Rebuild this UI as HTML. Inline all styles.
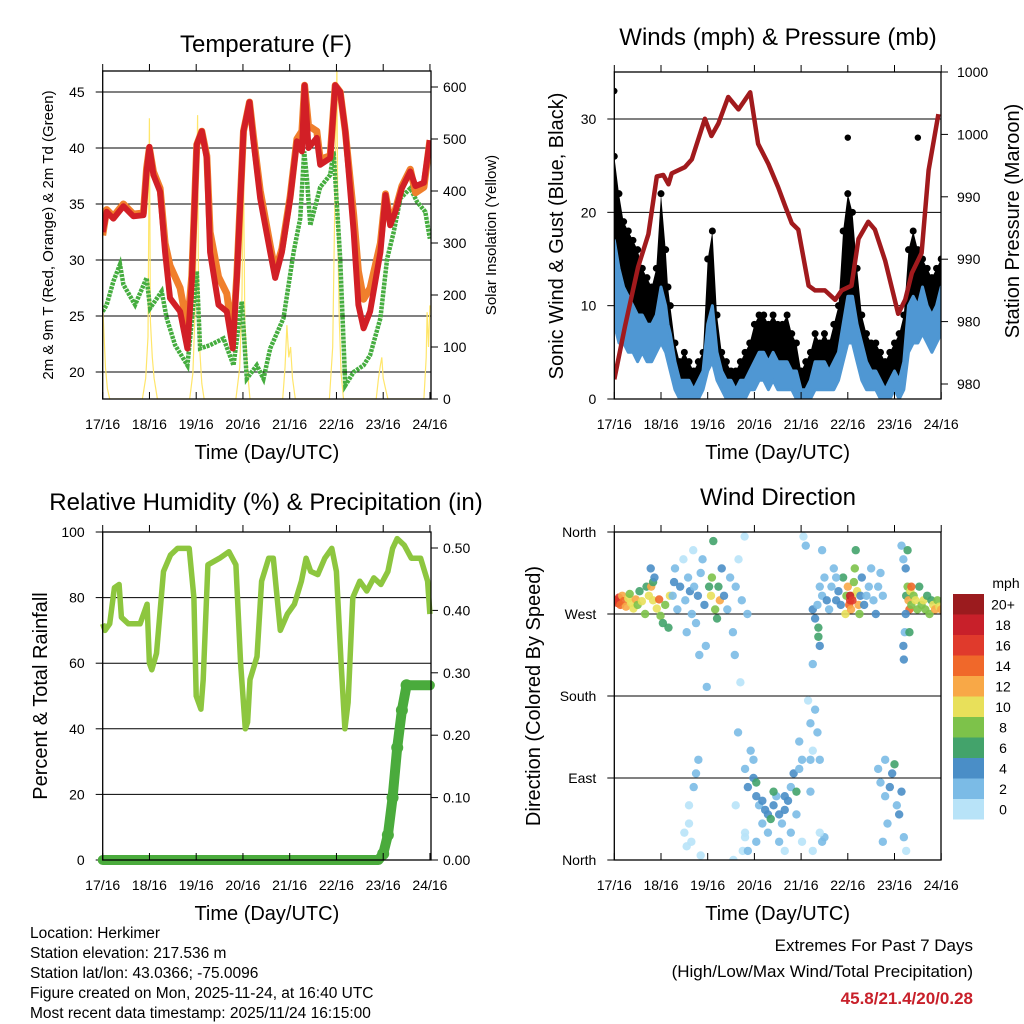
<!DOCTYPE html>
<html><head><meta charset="utf-8"><style>
html,body{margin:0;padding:0;background:#fff;}
svg{display:block;font-family:"Liberation Sans",sans-serif;}
</style></head><body>
<svg id="c" width="1024" height="1024" viewBox="0 0 1024 1024" xmlns="http://www.w3.org/2000/svg"></svg>
<script>
// ---------- DATA ----------
const dayTicks = ["17/16","18/16","19/16","20/16","21/16","22/16","23/16","24/16"];
// Temperature (F)
const tempT = [0,0.085,0.228,0.442,0.656,0.87,0.94,0.998,1.084,1.227,1.334,1.44,1.655,1.812,1.905,2.012,2.12,2.226,2.298,2.476,2.655,2.783,2.869,3.011,3.14,3.226,3.37,3.583,3.69,3.833,4.01,4.154,4.26,4.318,4.403,4.58,4.653,4.867,4.974,5.08,5.19,5.37,5.47,5.58,5.72,5.94,6.05,6.15,6.26,6.40,6.58,6.69,6.87,7.0];
const temp2m = [32.5,34.3,33.7,34.8,33.9,34.0,37.9,40.1,37.6,36.1,30.7,26.6,25.4,22.1,28.1,40.3,41.5,39.1,30.7,26.0,25.4,22.1,28.4,41.5,44.1,40.6,35.5,30.7,28.4,30.7,35.5,40.6,39.7,45.6,40.0,40.9,38.5,39.1,45.6,45.0,41.5,32.5,26.0,23.9,25.4,30.7,35.8,33.1,34.3,36.4,37.9,36.6,36.9,40.7];
const temp9m = [32.2,34.5,33.9,35.0,34.1,34.2,38.2,40.0,37.9,36.4,31.5,29.5,27.5,24.0,28.6,40.3,41.5,39.3,32.5,28.5,27.0,23.0,28.6,41.5,44.1,41.0,36.2,31.3,29.0,31.0,35.7,40.8,41.5,45.6,42.0,41.5,39.0,39.3,45.6,45.0,41.5,34.0,29.0,26.5,27.5,31.5,35.9,33.5,34.5,36.6,38.1,36.0,36.5,40.7];
const dewT = [0,0.085,0.228,0.37,0.442,0.692,0.94,1.013,1.263,1.37,1.548,1.812,2.012,2.083,2.298,2.583,2.797,2.976,3.083,3.297,3.44,3.583,3.868,4.083,4.225,4.31,4.368,4.44,4.653,4.867,4.94,5.08,5.19,5.37,5.58,5.72,5.94,6.083,6.225,6.368,6.58,6.725,6.9,7.0];
const dewPt = [25.4,26.0,28.1,29.6,27.8,26.0,28.4,25.7,27.2,24.8,22.4,20.6,29.0,22.1,22.4,23.0,20.6,26.3,19.4,20.6,19.4,22.1,24.8,30.7,33.7,39.7,37.3,33.1,36.5,37.6,39.7,30.1,18.8,20.0,20.6,21.5,24.8,30.1,32.5,35.5,36.4,35.2,34.3,31.9];
const solarT = [0,0.03,0.06,0.1,0.15,0.85,0.92,0.97,1.0,1.02,1.06,1.1,1.17,1.86,1.93,1.98,2.03,2.05,2.08,2.12,2.17,2.85,2.93,2.98,3.01,3.04,3.09,3.15,3.85,3.9,3.94,3.98,4.02,4.06,4.12,4.85,4.92,4.97,5.01,5.03,5.06,5.1,5.15,5.85,5.9,5.94,5.97,6.0,6.05,6.1,6.87,6.92,6.94,6.97,7.0];
const solarW = [180,120,60,20,0,0,40,120,540,150,80,40,0,0,50,180,546,200,90,30,0,0,60,200,469,150,60,0,0,60,142,80,100,40,0,0,100,400,640,300,150,50,0,0,40,65,80,40,20,0,0,80,167,100,180];
const tempTicks = [20,25,30,35,40,45];
const solarTicks = [0,100,200,300,400,500,600];
// Winds & pressure
const windT = [0,0.1,0.2,0.3,0.4,0.5,0.6,0.7,0.8,0.9,1.0,1.1,1.15,1.2,1.3,1.4,1.5,1.6,1.7,1.8,1.9,2.0,2.1,2.2,2.3,2.4,2.5,2.6,2.7,2.8,2.9,3.0,3.1,3.2,3.3,3.4,3.5,3.6,3.7,3.8,3.9,4.0,4.1,4.2,4.3,4.4,4.5,4.6,4.7,4.8,4.9,5.0,5.1,5.2,5.3,5.4,5.5,5.6,5.7,5.8,5.9,6.0,6.1,6.2,6.3,6.4,6.5,6.6,6.7,6.8,6.9,7.0];
const windSpd = [17,14,12,11,10,9,9,8,8,9,12,10,8,7,4,2,2,2,1,2,3,8,10,5,3,2,2,1,2,2,3,4,5,5,4,5,4,4,4,3,3,1,1,2,4,4,4,3,4,5,8,11,11,8,6,4,3,3,2,1,2,3,2,4,10,11,10,12,10,9,10,12];
const windLow = [8,6,6,5,5,4,5,4,4,5,6,5,4,3,1,0,0,0,0,0,1,3,4,2,1,0,0,0,0,0,1,1,2,2,1,2,1,1,1,1,0,0,0,0,1,1,1,1,1,2,4,6,6,4,2,1,1,1,0,0,0,1,0,1,5,6,6,7,6,5,6,7];
const windGust = [26,22,19,18,17,16,14,13,12,14,22,16,12,10,6,4,5,4,3,4,5,15,18,9,5,4,3,3,4,5,6,8,9,9,8,9,8,8,9,7,6,3,4,5,7,6,7,6,8,10,18,22,20,14,9,7,6,6,5,4,5,6,7,9,16,18,16,15,14,13,14,15];
const gustPeakT = [0,5.0,6.5];
const gustPeakV = [33,28,28];
const presT = [0,0.23,0.51,0.73,0.91,1.05,1.16,1.23,1.51,1.66,1.94,2.08,2.23,2.44,2.66,2.91,3.08,3.30,3.51,3.66,3.80,3.94,4.16,4.30,4.51,4.73,4.87,5.08,5.23,5.44,5.58,5.80,6.08,6.23,6.37,6.58,6.73,6.94];
const presMb = [978.3,981.7,985.5,987.6,991.3,991.4,990.8,991.5,991.9,992.4,995.0,993.9,994.7,996.4,995.6,996.7,993.4,992.1,990.6,989.4,988.3,987.9,984.3,984.0,984.0,983.4,984.0,984.3,987.3,988.4,987.9,985.9,982.5,983.4,985.1,986.4,991.7,995.3];
const windTicks = [0,10,20,30];
const presTickVals = [978,982,986,990,994,998];
const presTickLabels = ["980","980","990","990","1000","1000"];
// RH & precip
const rhT = [0,0.05,0.15,0.25,0.35,0.4,0.55,0.8,0.95,1.0,1.05,1.15,1.3,1.45,1.6,1.85,1.95,2.0,2.1,2.15,2.25,2.5,2.7,2.85,2.95,3.05,3.1,3.15,3.3,3.4,3.55,3.65,3.8,3.95,4.1,4.25,4.35,4.45,4.6,4.75,4.9,5.0,5.1,5.18,5.25,5.35,5.5,5.65,5.8,5.95,6.1,6.2,6.3,6.45,6.6,6.8,6.95,7.0];
const rhVal = [72,70,72,83,84,74,72,72,78,60,58,63,88,93,95,95,80,50,46,55,90,92,94,90,60,40,42,55,62,85,92,92,70,75,78,85,92,88,87,92,95,88,60,40,48,80,85,82,86,84,88,95,98,96,92,92,85,75];
const prT = [0,5.9,6.0,6.1,6.2,6.3,6.4,6.5,7.0];
const prVal = [0,0,0.01,0.04,0.1,0.18,0.24,0.28,0.28];
const rhTicks = [0,20,40,60,80,100];
const prTicks = [0,0.1,0.2,0.3,0.4,0.5];
const prTickLabels = ["0.00","0.10","0.20","0.30","0.40","0.50"];
// Wind direction scatter: time, direction (deg), speed (mph)
const dirT = [0.03,0.07,0.1,0.13,0.17,0.2,0.25,0.3,0.33,0.36,0.41,0.46,0.5,0.54,0.59,0.66,0.69,0.74,0.79,0.83,0.91,0.96,0.99,1.04,1.09,1.16,1.19,0.83,0.78,0.86,
1.25,1.28,1.3,1.35,1.41,1.48,1.52,1.55,1.58,1.62,1.66,1.69,1.71,1.75,1.79,1.82,1.85,1.89,1.93,1.96,1.98,2.03,2.07,2.09,2.12,2.16,2.2,2.23,2.26,2.3,
2.35,2.42,2.48,2.54,2.6,2.66,2.73,2.79,2.85,2.58,2.7,
1.5,1.55,1.6,1.7,1.75,1.8,1.85,1.6,1.65,2.55,2.6,2.65,2.75,2.8,
2.8,2.86,2.92,2.98,3.04,3.1,3.17,3.23,3.29,3.35,3.41,3.47,3.53,3.59,3.65,3.72,3.78,3.84,3.9,3.96,4.02,2.8,2.86,3.04,3.17,3.29,3.53,3.65,3.78,3.9,3.96,4.02,4.2,4.2,3.04,3.41,3.65,2.98,
4.05,4.1,4.15,4.2,4.25,
4.25,4.3,4.35,4.37,4.4,4.45,4.5,4.55,4.6,4.65,4.7,4.75,4.8,4.85,4.9,4.95,4.97,5.0,5.03,5.05,5.07,5.1,5.13,5.15,5.17,5.2,5.23,5.25,5.27,5.3,5.35,5.4,5.45,5.5,5.55,5.6,5.65,5.7,5.75,4.37,4.4,5.05,5.1,4.25,4.45,4.75,
4.3,4.35,4.4,4.25,4.45,4.5,4.4,
6.15,6.19,6.24,6.25,6.28,6.3,6.32,6.34,6.36,6.41,6.45,6.49,6.53,6.58,6.62,6.66,6.7,6.75,6.79,6.83,6.87,6.92,6.96,7.0,6.19,6.2,6.22,6.32,6.28,6.36,6.24,
5.65,5.7,5.8,5.85,5.9,5.95,6.0,6.05,6.1,6.15,6.2,6.25,5.8,5.75];
const dirDeg = [285,282,288,280,290,284,278,287,292,282,276,286,280,295,284,270,300,290,300,285,276,286,268,260,280,255,290,305,320,310,
290,305,320,275,300,330,285,250,310,295,270,340,300,260,290,225,315,330,280,235,190,300,290,310,350,275,265,300,285,320,
290,275,310,250,300,330,285,355,270,225,195,
30,15,60,80,95,110,5,40,20,0,60,140,10,25,
100,80,120,90,70,60,65,55,50,45,60,70,50,40,55,65,80,95,75,100,110,30,10,20,40,30,20,10,30,50,130,20,110,75,85,75,70,110,
355,345,175,150,120,
275,265,280,255,300,290,310,285,275,300,320,285,295,280,310,270,290,300,280,285,275,290,305,320,340,295,280,270,290,310,280,290,300,320,285,270,300,315,290,245,235,290,285,215,340,310,
165,140,110,10,20,25,30,
345,330,320,290,300,285,275,295,280,290,285,275,300,280,285,275,290,270,285,280,275,285,278,275,235,220,250,250,340,300,270,
100,85,70,40,80,95,105,60,50,75,25,10,110,20];
const dirSpd = [19,17,16,14,12,15,12,10,8,11,10,12,9,7,11,8,6,10,12,11,10,14,8,7,8,7,10,6,4,5,
3,4,2,3,4,1,3,2,3,4,2,1,3,2,4,2,3,2,4,3,2,6,10,8,6,8,7,6,12,4,
4,3,2,3,2,1,2,1,2,2,1,
0,1,1,3,3,3,1,1,1,1,1,2,1,1,
3,4,3,5,4,3,4,5,4,6,4,3,4,3,4,5,3,4,6,3,2,1,2,3,3,3,2,1,2,2,2,1,2,2,6,7,5,2,
1,2,1,2,1,
4,5,3,6,2,3,2,4,3,3,2,4,5,4,6,10,8,12,14,16,12,10,8,8,7,11,12,9,4,4,4,3,2,2,3,4,2,3,2,7,4,18,17,2,3,3,
2,2,3,1,2,2,1,
2,3,4,6,8,12,14,10,8,9,10,8,7,8,11,9,6,8,7,10,12,9,11,12,4,4,2,7,6,14,4,
2,3,2,2,4,4,6,3,4,4,2,1,2,2];
const dirTickLabels = ["North","West","South","East","North"];
const dirTickVals = [360,270,180,90,0];
const speedBins = ["0","2","4","6","8","10","12","14","16","18","20+"];
const speedColors = ["#b8e3f8","#7bbbe6","#4a8ec7","#43a36b","#7dc24a","#e8e05a","#f8a847","#f0682a","#e03a2c","#c8202a","#9b1b1e"];

// ---------- HELPERS ----------
const NS = "http://www.w3.org/2000/svg";
const svg = document.getElementById('c');
function mk(tag, attrs, parent) {
  const e = document.createElementNS(NS, tag);
  for (const k in attrs) e.setAttribute(k, attrs[k]);
  (parent || svg).appendChild(e);
  return e;
}
function txt(s, x, y, size, anchor, parent, extra) {
  const e = mk('text', Object.assign({x: x, y: y, 'font-size': size, 'text-anchor': anchor || 'middle', fill: '#000'}, extra || {}), parent);
  e.textContent = s;
  return e;
}
function lin(d0, d1, r0, r1) { return v => r0 + (v - d0) / (d1 - d0) * (r1 - r0); }
function poly(ts, vs, xf, yf) { return ts.map((t, i) => xf(t).toFixed(1) + ',' + yf(vs[i]).toFixed(1)).join(' '); }
function band(ts, lo, hi, xf, yf) {
  const a = ts.map((t, i) => xf(t).toFixed(1) + ',' + yf(hi[i]).toFixed(1));
  const b = ts.map((t, i) => xf(t).toFixed(1) + ',' + yf(lo[i]).toFixed(1)).reverse();
  return a.concat(b).join(' ');
}

function frame(name, L, T, R, B) {
  const g = mk('g', {});
  
  
  const cp = mk('clipPath', {id: name + '-clip'});
  mk('rect', {x: L, y: T, width: R - L, height: B - T}, cp);
  return g;
}
function box(g, L, T, R, B) {
  const r = mk('rect', {x: L, y: T, width: R - L, height: B - T, fill: 'none', stroke: '#000', 'stroke-width': 1.3}, g);
  
  
}
function xAxis(g, L, R, T, B, xf) {
  dayTicks.forEach((lab, i) => {
    const x = xf(i);
    mk('line', {x1: x, y1: B, x2: x, y2: B - 7, stroke: '#000', 'stroke-width': 1}, g);
    mk('line', {x1: x, y1: T, x2: x, y2: T - 7, stroke: '#000', 'stroke-width': 1}, g);
    const t = txt(lab, x, B + 30, 14, 'middle', g);
    
    
  });
  const xt = txt('Time (Day/UTC)', (L + R) / 2, B + 60, 20, 'middle', g);
  
  
}

// ---------- PANEL 1: TEMPERATURE ----------
(function () {
  const L = 102.7, R = 431, T = 71, B = 399;
  const g = frame('temperature-panel', L, T, R, B);
  const xf = lin(0, 7, L, L + 7 * 46.75);
  const yf = lin(20, 45, 372, 92);
  const sf = lin(0, 600, 399, 87);
  tempTicks.forEach(v => {
    mk('line', {x1: L, y1: yf(v), x2: R, y2: yf(v), stroke: '#000', 'stroke-width': 1}, g);
    mk('line', {x1: L, y1: yf(v), x2: L - 7, y2: yf(v), stroke: '#000'}, g);
    const t = txt(String(v), L - 18, yf(v) + 5, 14, 'end', g);
    
    
  });
  solarTicks.forEach(v => {
    mk('line', {x1: R, y1: sf(v), x2: R + 7, y2: sf(v), stroke: '#000'}, g);
    const t = txt(String(v), R + 12, sf(v) + 5, 14, 'start', g);
    
    
  });
  const c = mk('g', {'clip-path': 'url(#temperature-panel-clip)'}, g);
  const s = mk('polyline', {points: poly(solarT, solarW, xf, sf), fill: 'none', stroke: '#ffe66b', 'stroke-width': 1.2}, c);
  
  
  const d = mk('polyline', {points: poly(dewT, dewPt, xf, yf), fill: 'none', stroke: '#45ad3f', 'stroke-width': 4.5, 'stroke-dasharray': '3 1'}, c);
  
  
  const o = mk('polyline', {points: poly(tempT, temp9m, xf, yf), fill: 'none', stroke: '#f07f2c', 'stroke-width': 7, 'stroke-linejoin': 'round'}, c);
  
  
  const r = mk('polyline', {points: poly(tempT, temp2m, xf, yf), fill: 'none', stroke: '#d21f26', 'stroke-width': 6, 'stroke-linejoin': 'round'}, c);
  
  
  box(g, L, T, R, B);
  xAxis(g, L, R, T, B, xf);
  const ti = txt('Temperature (F)', 266, 52, 24, 'middle', g);
  
  
  const yl = txt('2m & 9m T (Red, Orange) & 2m Td (Green)', 0, 0, 15, 'middle', g, {transform: 'translate(53,235) rotate(-90)'});
  
  
  const yr = txt('Solar Insolation (Yellow)', 0, 0, 15, 'middle', g, {transform: 'translate(496,235) rotate(-90)'});
  
  
})();

// ---------- PANEL 2: WINDS & PRESSURE ----------
(function () {
  const L = 614.3, R = 941, T = 72, B = 399;
  const g = frame('winds-panel', L, T, R, B);
  const xf = lin(0, 7, L, L + 7 * 46.7);
  const yf = lin(0, 30, 399, 119);
  const pf = lin(978, 998, 384, 72);
  windTicks.forEach(v => {
    if (v > 0) mk('line', {x1: L, y1: yf(v), x2: R, y2: yf(v), stroke: '#000', 'stroke-width': 1}, g);
    mk('line', {x1: L, y1: yf(v), x2: L - 7, y2: yf(v), stroke: '#000'}, g);
    const t = txt(String(v), L - 18, yf(v) + 5, 14, 'end', g);
    
    
  });
  presTickVals.forEach((v, i) => {
    mk('line', {x1: R, y1: pf(v), x2: R + 7, y2: pf(v), stroke: '#000'}, g);
    const t = txt(presTickLabels[i], R + 16, pf(v) + 5, 14, 'start', g);
    
    
  });
  const c = mk('g', {'clip-path': 'url(#winds-panel-clip)'}, g);
  const ga = mk('polygon', {points: band(windT, windSpd, windGust, xf, yf), fill: '#000'}, c);
  
  
  const gg = mk('g', {fill: '#000'}, c);
  
  
  windT.forEach((t, i) => {
    const p = mk('circle', {cx: xf(t), cy: yf(windGust[i]), r: 3.5}, gg);
    
    
  });
  gustPeakT.forEach((t, i) => {
    const p = mk('circle', {cx: xf(t), cy: yf(gustPeakV[i]), r: 3.2, fill: '#000'}, c);
    
    
  });
  const wa = mk('polygon', {points: band(windT, windLow, windSpd, xf, yf), fill: '#4f97d3', stroke: '#4f97d3', 'stroke-width': 3, 'stroke-linejoin': 'round'}, c);
  
  
  const pl = mk('polyline', {points: poly(presT, presMb, xf, pf), fill: 'none', stroke: '#a11a1d', 'stroke-width': 4.5, 'stroke-linejoin': 'round'}, c);
  
  
  box(g, L, T, R, B);
  xAxis(g, L, R, T, B, xf);
  const ti = txt('Winds (mph) & Pressure (mb)', 778, 45, 24, 'middle', g);
  
  
  const yl = txt('Sonic Wind & Gust (Blue, Black)', 0, 0, 20, 'middle', g, {transform: 'translate(563,236) rotate(-90)'});
  
  
  const yr = txt('Station Pressure (Maroon)', 0, 0, 20, 'middle', g, {transform: 'translate(1019,221) rotate(-90)'});
  
  
})();

// ---------- PANEL 3: RH & PRECIP ----------
(function () {
  const L = 102.7, R = 431, T = 532, B = 860;
  const g = frame('humidity-panel', L, T, R, B);
  const xf = lin(0, 7, L, L + 7 * 46.75);
  const yf = lin(0, 100, 860, 532);
  const pf = lin(0, 0.5, 860, 548);
  rhTicks.forEach(v => {
    if (v > 0 && v < 100) mk('line', {x1: L, y1: yf(v), x2: R, y2: yf(v), stroke: '#000', 'stroke-width': 1}, g);
    mk('line', {x1: L, y1: yf(v), x2: L - 7, y2: yf(v), stroke: '#000'}, g);
    const t = txt(String(v), L - 18, yf(v) + 5, 14, 'end', g);
    
    
  });
  prTicks.forEach((v, i) => {
    mk('line', {x1: R, y1: pf(v), x2: R + 7, y2: pf(v), stroke: '#000'}, g);
    const t = txt(prTickLabels[i], R + 12, pf(v) + 5, 14, 'start', g);
    
    
  });
  const rl = mk('polyline', {points: poly(rhT, rhVal, xf, yf), fill: 'none', stroke: '#8dc63f', 'stroke-width': 5.5, 'stroke-linejoin': 'round'}, g);
  
  
  const pr = mk('polyline', {points: poly(prT, prVal, xf, pf), fill: 'none', stroke: '#4aab3c', 'stroke-width': 10, 'stroke-linejoin': 'round', 'stroke-linecap': 'round'}, g);
  
  
  prT.forEach((t, i) => {
    if (i > 1 && i < prT.length - 1) {
      const p = mk('circle', {cx: xf(t), cy: pf(prVal[i]), r: 6, fill: '#4aab3c'}, g);
      
      
    }
  });
  box(g, L, T, R, B);
  xAxis(g, L, R, T, B, xf);
  const ti = txt('Relative Humidity (%) & Precipitation (in)', 266, 510, 24, 'middle', g);
  
  
  const yl = txt('Percent & Total Rainfall', 0, 0, 20, 'middle', g, {transform: 'translate(47,696) rotate(-90)'});
  
  
})();

// ---------- PANEL 4: WIND DIRECTION ----------
(function () {
  const L = 614.3, R = 941, T = 532, B = 860;
  const g = frame('direction-panel', L, T, R, B);
  const xf = lin(0, 7, L, L + 7 * 46.7);
  const yf = lin(0, 360, 860, 532);
  dirTickVals.forEach((v, i) => {
    if (v > 0 && v < 360) mk('line', {x1: L, y1: yf(v), x2: R, y2: yf(v), stroke: '#000', 'stroke-width': 1}, g);
    mk('line', {x1: L, y1: yf(v), x2: L - 7, y2: yf(v), stroke: '#000'}, g);
    const t = txt(dirTickLabels[i], L - 18, yf(v) + 5, 14, 'end', g);
    
    
  });
  const c = mk('g', {'clip-path': 'url(#direction-panel-clip)'}, g);
  dirT.forEach((t, i) => {
    const bin = Math.min(10, Math.floor(dirSpd[i] / 2));
    const p = mk('circle', {cx: xf(t), cy: yf(dirDeg[i]), r: 4.2, fill: speedColors[bin], 'fill-opacity': 0.9}, c);
    
    
  });
  box(g, L, T, R, B);
  xAxis(g, L, R, T, B, xf);
  const ti = txt('Wind Direction', 778, 505, 24, 'middle', g);
  
  
  const yl = txt('Direction (Colored By Speed)', 0, 0, 20, 'middle', g, {transform: 'translate(540,696) rotate(-90)'});
  
  
  const cb = mk('g', {}, g);
  
  
  const h = 20.5, top = 594;
  speedBins.forEach((lab, i) => {
    const k = speedBins.length - 1 - i;
    const y = top + i * h;
    const r = mk('rect', {x: 953, y: y, width: 31, height: h, fill: speedColors[k]}, cb);
    
    
    const t = txt(speedBins[k], 1003, y + h / 2 + 5, 14, 'middle', cb);
    
    
  });
  const u = txt('mph', 1006, 588, 14, 'middle', cb);
  
  
})();

// ---------- FOOTER TEXT ----------
const infoLines = ["Location: Herkimer","Station elevation: 217.536 m","Station lat/lon: 43.0366; -75.0096","Figure created on Mon, 2025-11-24, at 16:40 UTC","Most recent data timestamp: 2025/11/24 16:15:00"];
infoLines.forEach((s, i) => {
  const t = txt(s, 30, 938 + i * 20, 15.5, 'start');
  
  
});
const e1 = txt('Extremes For Past 7 Days', 973, 951, 17, 'end');


const e2 = txt('(High/Low/Max Wind/Total Precipitation)', 973, 977, 17, 'end');


const e3 = txt('45.8/21.4/20/0.28', 973, 1004, 17, 'end', null, {fill: '#c8202a', 'font-weight': 'bold'});


</script>
</body></html>
